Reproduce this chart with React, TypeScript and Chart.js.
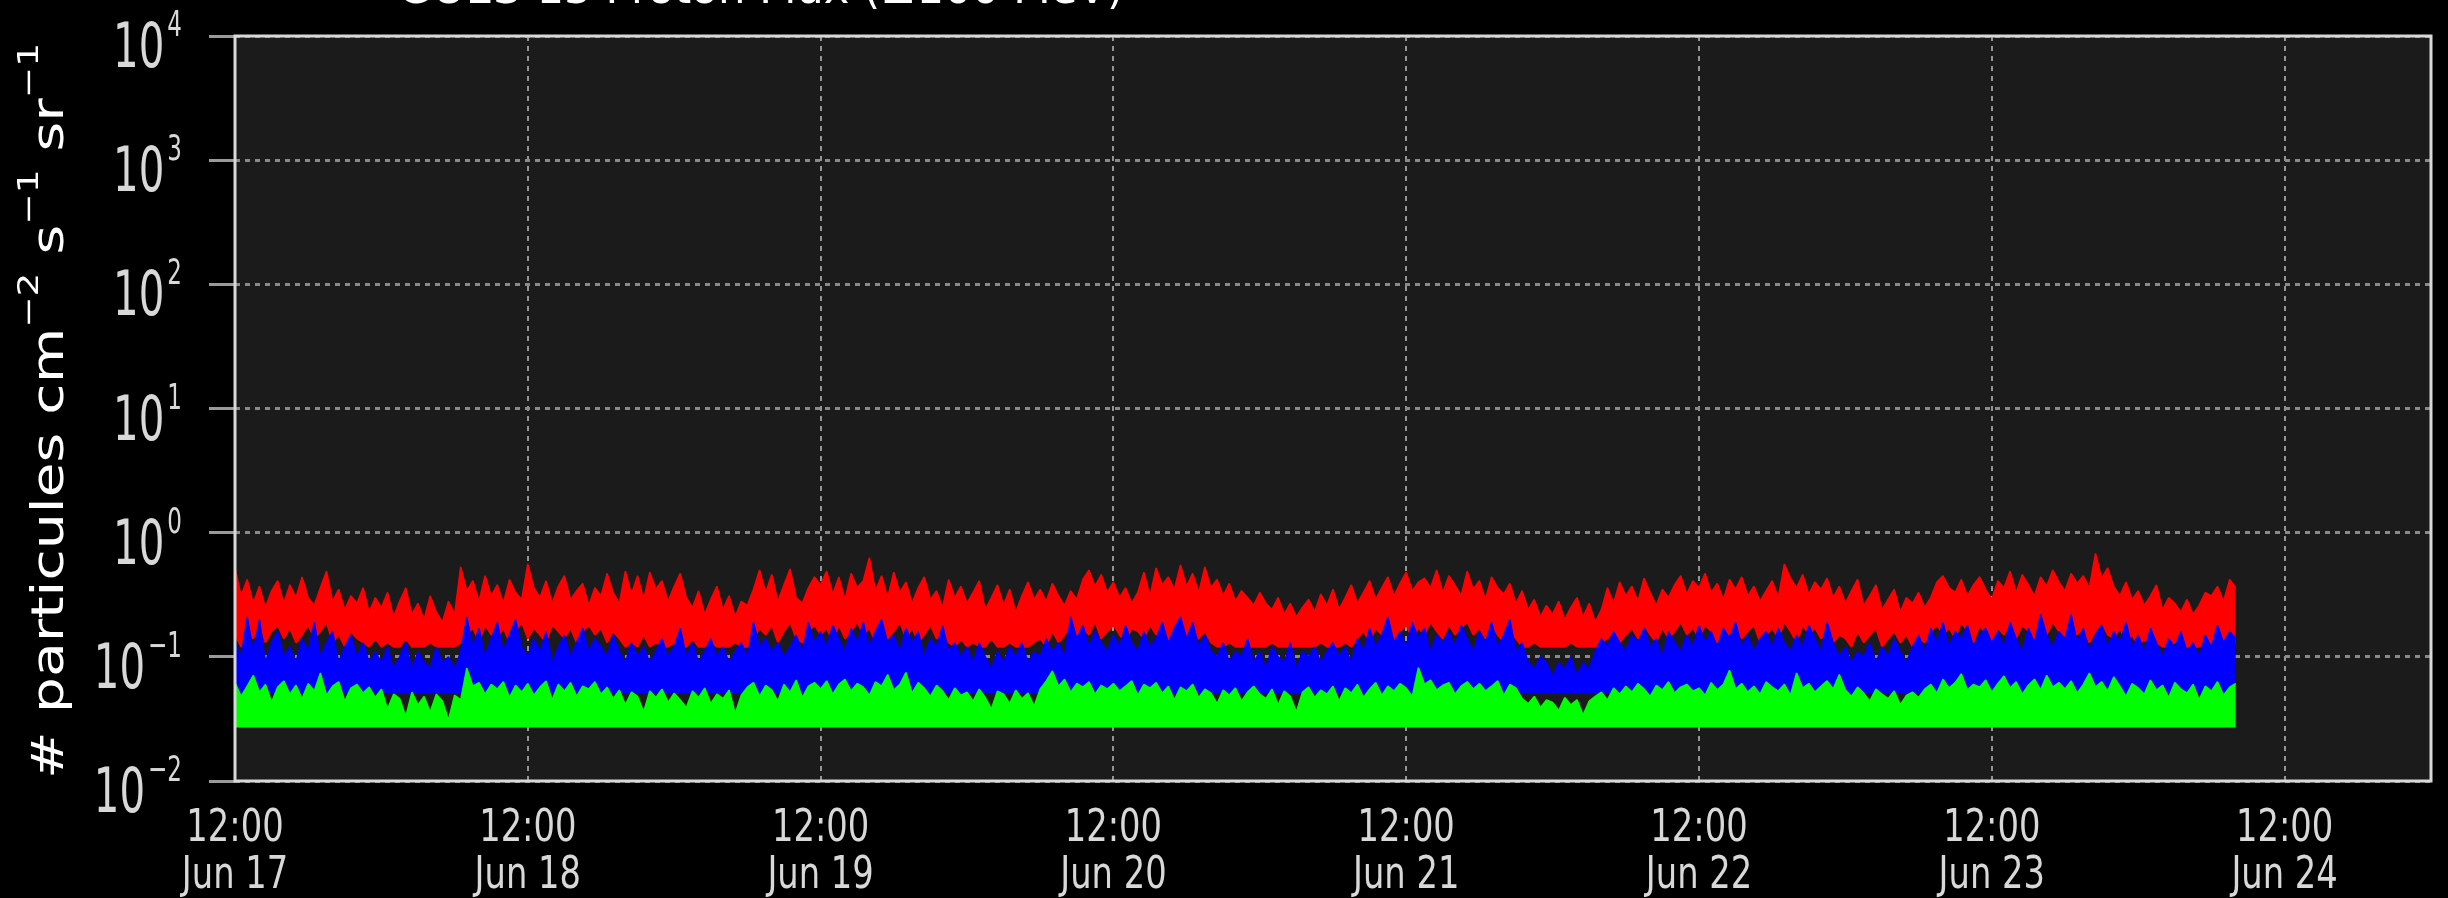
import { useEffect, useRef } from "react";
import { Chart, registerables } from "chart.js";

Chart.register(...registerables);

// ---------- text ----------
const TITLE = "GOES-13 Proton Flux (≥100 MeV)";
const Y_TITLE_PARTS: [string, boolean][] = [
  ["# particules cm", false],
  ["−2", true],
  [" s", false],
  ["−1", true],
  [" sr", false],
  ["−1", true],
];

// ---------- axes ----------
const X_TICK_HOURS = [0, 24, 48, 72, 96, 120, 144, 168]; // hours since Jun 17 12:00
const X_TICK_TIMES = ["12:00", "12:00", "12:00", "12:00", "12:00", "12:00", "12:00", "12:00"];
const X_TICK_DAYS = ["Jun 17", "Jun 18", "Jun 19", "Jun 20", "Jun 21", "Jun 22", "Jun 23", "Jun 24"];
const X_MIN_HOURS = 0;
const X_MAX_HOURS = 180;
const Y_TICKS = [0.01, 0.1, 1, 10, 100, 1000, 10000];
const Y_TICK_EXPONENTS = ["−2", "−1", "0", "1", "2", "3", "4"];
const Y_MIN = 0.01;
const Y_MAX = 10000;

// ---------- data (30-minute samples from Jun 17 12:00) ----------
const SAMPLE_STEP_HOURS = 0.5;

const RED_HIGH = [
  0.52, 0.31, 0.42, 0.27, 0.37, 0.25, 0.34, 0.41, 0.27, 0.38, 0.30, 0.44,
  0.30, 0.26, 0.36, 0.49, 0.28, 0.35, 0.24, 0.31, 0.27, 0.36, 0.23, 0.30,
  0.25, 0.33, 0.21, 0.28, 0.36, 0.22, 0.27, 0.20, 0.31, 0.23, 0.19, 0.28,
  0.22, 0.53, 0.34, 0.41, 0.28, 0.45, 0.31, 0.38, 0.27, 0.42, 0.33, 0.29,
  0.56, 0.36, 0.30, 0.41, 0.27, 0.37, 0.45, 0.29, 0.34, 0.39, 0.26, 0.36,
  0.31, 0.47, 0.33, 0.27, 0.49, 0.32, 0.45, 0.29, 0.48, 0.35, 0.41, 0.28,
  0.37, 0.47, 0.30, 0.25, 0.34, 0.22, 0.29, 0.37, 0.24, 0.31, 0.21, 0.28,
  0.26, 0.35, 0.50, 0.33, 0.46, 0.28, 0.38, 0.51, 0.30, 0.27, 0.36, 0.44,
  0.38, 0.49, 0.32, 0.44, 0.29, 0.47, 0.36, 0.41, 0.63, 0.34, 0.45, 0.30,
  0.48, 0.33, 0.40, 0.27, 0.36, 0.44, 0.29, 0.34, 0.25, 0.42, 0.30, 0.37,
  0.27, 0.33, 0.41, 0.24, 0.30, 0.38, 0.26, 0.35, 0.23, 0.31, 0.40, 0.29,
  0.35, 0.28, 0.39, 0.31, 0.26, 0.34, 0.29, 0.42, 0.50, 0.37, 0.46, 0.33,
  0.40, 0.30, 0.36, 0.27, 0.33, 0.48, 0.31, 0.52, 0.38, 0.44, 0.35, 0.55,
  0.37, 0.47, 0.33, 0.53, 0.36, 0.42, 0.31, 0.39, 0.28, 0.34, 0.30, 0.26,
  0.33, 0.27, 0.24, 0.30, 0.22, 0.27, 0.21, 0.25, 0.29, 0.23, 0.32, 0.26,
  0.35, 0.24, 0.30, 0.38, 0.27, 0.33, 0.41, 0.29, 0.36, 0.44, 0.31, 0.39,
  0.48, 0.34, 0.40, 0.43, 0.36, 0.50, 0.33, 0.45, 0.38, 0.31, 0.49, 0.35,
  0.41, 0.29, 0.44, 0.36, 0.32, 0.39, 0.27, 0.34, 0.24, 0.29, 0.21, 0.26,
  0.22, 0.28, 0.20, 0.25, 0.30, 0.21, 0.27, 0.19, 0.24, 0.36, 0.27, 0.40,
  0.31, 0.37, 0.28, 0.43, 0.33, 0.26, 0.35, 0.30, 0.38, 0.45, 0.32, 0.41,
  0.36, 0.47, 0.33, 0.39, 0.29, 0.42, 0.35, 0.44, 0.31, 0.37, 0.28, 0.34,
  0.41, 0.30, 0.56, 0.43, 0.36, 0.46, 0.32, 0.40, 0.35, 0.43, 0.30, 0.37,
  0.27, 0.34, 0.42, 0.26, 0.31, 0.38, 0.24, 0.29, 0.35, 0.23, 0.30, 0.27,
  0.33, 0.25, 0.30, 0.40, 0.45, 0.36, 0.33, 0.42, 0.31, 0.38, 0.44, 0.35,
  0.29, 0.41, 0.36, 0.49, 0.33, 0.46, 0.38, 0.31, 0.44, 0.37, 0.50, 0.40,
  0.34, 0.47, 0.39, 0.45, 0.36, 0.68, 0.43, 0.52, 0.37, 0.31, 0.40, 0.29,
  0.34, 0.26, 0.31, 0.38, 0.24, 0.30, 0.27, 0.23, 0.29, 0.22, 0.26, 0.33,
  0.31, 0.37, 0.28, 0.42, 0.36,
];

const RED_LOW = [
  0.15, 0.12, 0.17, 0.14, 0.19, 0.13, 0.16, 0.18, 0.14, 0.17, 0.13, 0.15,
  0.18, 0.14, 0.16, 0.19, 0.13, 0.15, 0.12, 0.16, 0.14, 0.13, 0.12, 0.14,
  0.12, 0.13, 0.12, 0.12, 0.14, 0.12, 0.12, 0.12, 0.13, 0.12, 0.12, 0.12,
  0.12, 0.13, 0.15, 0.17, 0.13, 0.18, 0.15, 0.14, 0.17, 0.13, 0.16, 0.19,
  0.14, 0.17, 0.15, 0.13, 0.18, 0.16, 0.14, 0.17, 0.13, 0.16, 0.18, 0.15,
  0.17, 0.13, 0.16, 0.14, 0.12, 0.13, 0.12, 0.15, 0.12, 0.13, 0.12, 0.12,
  0.13, 0.12, 0.12, 0.14, 0.12, 0.12, 0.13, 0.12, 0.12, 0.12, 0.13, 0.12,
  0.12, 0.14, 0.17, 0.15, 0.18, 0.13, 0.16, 0.19, 0.14, 0.13, 0.16, 0.18,
  0.15, 0.17, 0.13, 0.18, 0.14, 0.16, 0.19, 0.15, 0.17, 0.13, 0.18, 0.14,
  0.16, 0.19, 0.14, 0.17, 0.13, 0.15, 0.18, 0.14, 0.16, 0.13, 0.12, 0.14,
  0.12, 0.13, 0.12, 0.12, 0.14, 0.12, 0.12, 0.13, 0.12, 0.12, 0.12, 0.13,
  0.14, 0.12, 0.16, 0.13, 0.15, 0.18, 0.14, 0.17, 0.15, 0.19, 0.14, 0.16,
  0.18, 0.15, 0.13, 0.17, 0.16, 0.14, 0.18, 0.15, 0.17, 0.13, 0.16, 0.19,
  0.15, 0.17, 0.14, 0.16, 0.13, 0.12, 0.12, 0.13, 0.12, 0.12, 0.12, 0.12,
  0.12, 0.12, 0.13, 0.12, 0.12, 0.12, 0.12, 0.12, 0.12, 0.12, 0.13, 0.12,
  0.12, 0.12, 0.13, 0.12, 0.14, 0.16, 0.13, 0.17, 0.15, 0.18, 0.14, 0.16,
  0.18, 0.14, 0.17, 0.15, 0.19, 0.16, 0.14, 0.18, 0.15, 0.17, 0.19, 0.15,
  0.17, 0.14, 0.18, 0.15, 0.13, 0.16, 0.14, 0.12, 0.12, 0.13, 0.12, 0.12,
  0.12, 0.12, 0.12, 0.13, 0.12, 0.12, 0.12, 0.12, 0.13, 0.14, 0.16, 0.13,
  0.15, 0.17, 0.14, 0.18, 0.15, 0.13, 0.17, 0.14, 0.16, 0.19, 0.15, 0.17,
  0.14, 0.18, 0.16, 0.13, 0.17, 0.15, 0.19, 0.14, 0.16, 0.18, 0.13, 0.15,
  0.17, 0.14, 0.19, 0.16, 0.13, 0.18, 0.15, 0.17, 0.14, 0.16, 0.13, 0.15,
  0.14, 0.12, 0.16, 0.13, 0.15, 0.17, 0.12, 0.14, 0.16, 0.13, 0.15, 0.12,
  0.14, 0.13, 0.16, 0.18, 0.15, 0.17, 0.14, 0.19, 0.16, 0.13, 0.18, 0.15,
  0.13, 0.17, 0.15, 0.19, 0.14, 0.18, 0.16, 0.13, 0.17, 0.15, 0.19, 0.16,
  0.14, 0.18, 0.15, 0.17, 0.13, 0.16, 0.19, 0.15, 0.14, 0.17, 0.13, 0.15,
  0.12, 0.14, 0.12, 0.13, 0.12, 0.12, 0.13, 0.12, 0.12, 0.12, 0.12, 0.13,
  0.12, 0.13, 0.12, 0.14, 0.13,
];

const BLUE_HIGH = [
  0.13, 0.10, 0.21, 0.11, 0.20, 0.09, 0.13, 0.16, 0.10, 0.12, 0.09, 0.14,
  0.11, 0.19, 0.10, 0.13, 0.16, 0.09, 0.12, 0.15, 0.10, 0.13, 0.09, 0.11,
  0.09, 0.12, 0.08, 0.10, 0.13, 0.08, 0.11, 0.09, 0.08, 0.12, 0.09, 0.10,
  0.08, 0.11, 0.21, 0.12, 0.17, 0.10, 0.14, 0.19, 0.11, 0.15, 0.20, 0.12,
  0.10, 0.14, 0.11, 0.16, 0.09, 0.12, 0.15, 0.10, 0.13, 0.17, 0.11, 0.14,
  0.12, 0.10, 0.15, 0.11, 0.09, 0.13, 0.10, 0.12, 0.09, 0.11, 0.14, 0.10,
  0.12, 0.17, 0.10, 0.13, 0.09, 0.11, 0.14, 0.10, 0.12, 0.09, 0.11, 0.13,
  0.10, 0.19, 0.12, 0.14, 0.11, 0.13, 0.10, 0.12, 0.15, 0.11, 0.19, 0.13,
  0.16, 0.12, 0.18, 0.14, 0.11, 0.17, 0.13, 0.19, 0.12, 0.16, 0.20, 0.13,
  0.15, 0.11, 0.17, 0.13, 0.16, 0.10, 0.14, 0.12, 0.18, 0.11, 0.13, 0.10,
  0.12, 0.09, 0.13, 0.10, 0.08, 0.11, 0.09, 0.12, 0.10, 0.13, 0.09, 0.11,
  0.10, 0.14, 0.11, 0.13, 0.10, 0.21, 0.14, 0.18, 0.12, 0.16, 0.13, 0.11,
  0.15, 0.12, 0.18, 0.13, 0.11, 0.16, 0.12, 0.14, 0.19, 0.13, 0.17, 0.21,
  0.14, 0.19, 0.12, 0.15, 0.11, 0.10, 0.13, 0.09, 0.11, 0.10, 0.14, 0.09,
  0.11, 0.08, 0.12, 0.10, 0.09, 0.13, 0.08, 0.11, 0.10, 0.12, 0.09, 0.11,
  0.13, 0.10, 0.12, 0.09, 0.14, 0.11, 0.17, 0.12, 0.15, 0.21, 0.13, 0.16,
  0.12, 0.19, 0.14, 0.17, 0.11, 0.15, 0.13, 0.16, 0.12, 0.18, 0.14, 0.11,
  0.16, 0.13, 0.19, 0.12, 0.15, 0.20, 0.11, 0.13, 0.09, 0.08, 0.10, 0.09,
  0.07, 0.09, 0.08, 0.10, 0.07, 0.09, 0.08, 0.11, 0.14, 0.12, 0.16, 0.13,
  0.11, 0.15, 0.13, 0.17, 0.12, 0.14, 0.10, 0.16, 0.13, 0.11, 0.15, 0.12,
  0.18, 0.13, 0.16, 0.12, 0.17, 0.14, 0.19, 0.12, 0.15, 0.11, 0.14, 0.16,
  0.12, 0.17, 0.13, 0.11, 0.15, 0.12, 0.18, 0.14, 0.11, 0.19, 0.13, 0.10,
  0.12, 0.09, 0.11, 0.10, 0.13, 0.09, 0.12, 0.10, 0.14, 0.11, 0.09, 0.12,
  0.15, 0.11, 0.17, 0.13, 0.19, 0.12, 0.16, 0.14, 0.18, 0.12, 0.15, 0.17,
  0.13, 0.16, 0.12, 0.19, 0.14, 0.11, 0.17, 0.13, 0.22, 0.15, 0.12, 0.16,
  0.14, 0.22, 0.13, 0.17, 0.11, 0.15, 0.18, 0.12, 0.16, 0.13, 0.19, 0.12,
  0.15, 0.11, 0.17, 0.13, 0.10, 0.14, 0.12, 0.16, 0.11, 0.13, 0.10, 0.15,
  0.12, 0.18, 0.13, 0.16, 0.14,
];
const BLUE_FLOOR = 0.051;

const GREEN_HIGH = [
  0.062, 0.048, 0.058, 0.071, 0.052, 0.060, 0.043, 0.057, 0.064, 0.050, 0.059, 0.046,
  0.061, 0.053, 0.074, 0.049, 0.058, 0.063, 0.044, 0.056, 0.060, 0.051, 0.057, 0.047,
  0.055, 0.038, 0.050, 0.046, 0.033, 0.052, 0.041, 0.048, 0.036, 0.050, 0.044, 0.031,
  0.049, 0.045, 0.081, 0.058, 0.062, 0.050, 0.060, 0.055, 0.063, 0.047, 0.059, 0.052,
  0.061, 0.049, 0.057, 0.064, 0.045, 0.060, 0.053, 0.062, 0.048, 0.058, 0.055, 0.063,
  0.050, 0.057, 0.046, 0.054, 0.041, 0.052, 0.048, 0.036, 0.053, 0.047, 0.055, 0.043,
  0.051, 0.045, 0.039, 0.053, 0.047, 0.056, 0.042, 0.050, 0.046, 0.054, 0.035, 0.049,
  0.057, 0.062, 0.048, 0.059, 0.054, 0.044, 0.060, 0.052, 0.065, 0.047, 0.058, 0.062,
  0.055, 0.064, 0.050, 0.060, 0.066, 0.053, 0.061, 0.057, 0.049, 0.063, 0.058, 0.072,
  0.054, 0.060, 0.075, 0.051, 0.062, 0.056, 0.048, 0.059, 0.053, 0.045, 0.056, 0.049,
  0.052, 0.044, 0.055, 0.047, 0.038, 0.053, 0.050, 0.042, 0.054, 0.046, 0.051, 0.040,
  0.055, 0.064, 0.077, 0.058, 0.066, 0.052, 0.061, 0.057, 0.063, 0.050, 0.059, 0.055,
  0.061, 0.053, 0.058, 0.064, 0.049, 0.060, 0.056, 0.062, 0.051, 0.058, 0.045, 0.057,
  0.053, 0.060, 0.047, 0.055, 0.051, 0.042, 0.054, 0.049, 0.056, 0.044, 0.052, 0.058,
  0.050, 0.046, 0.055, 0.041, 0.053, 0.048, 0.036, 0.052, 0.057, 0.047, 0.054, 0.050,
  0.058, 0.044, 0.056, 0.051, 0.060, 0.047, 0.055, 0.062, 0.049, 0.058, 0.053, 0.061,
  0.056, 0.048, 0.082, 0.060, 0.065, 0.054, 0.059, 0.062, 0.050, 0.058, 0.063, 0.055,
  0.061, 0.053, 0.058, 0.064, 0.049, 0.060, 0.056, 0.046, 0.042, 0.048, 0.039, 0.045,
  0.043, 0.037, 0.047, 0.041, 0.045, 0.034, 0.044, 0.048, 0.052, 0.045, 0.056, 0.050,
  0.058, 0.052, 0.061, 0.055, 0.048, 0.059, 0.054, 0.063, 0.051, 0.057, 0.060, 0.053,
  0.056, 0.049, 0.062, 0.054, 0.060, 0.078, 0.055, 0.061, 0.052, 0.058, 0.050, 0.063,
  0.057, 0.053, 0.060, 0.049, 0.074, 0.056, 0.061, 0.052, 0.058, 0.064, 0.055, 0.072,
  0.054, 0.048, 0.057, 0.051, 0.044, 0.055, 0.050, 0.046, 0.053, 0.041, 0.049, 0.052,
  0.047, 0.055, 0.060, 0.051, 0.066, 0.056, 0.062, 0.073, 0.054, 0.060, 0.057, 0.065,
  0.052, 0.061, 0.070, 0.056, 0.063, 0.050, 0.059, 0.066, 0.054, 0.071, 0.057, 0.062,
  0.055, 0.064, 0.051, 0.060, 0.074, 0.057, 0.063, 0.053, 0.069, 0.058, 0.048, 0.061,
  0.056, 0.050, 0.065, 0.054, 0.059, 0.047, 0.062, 0.055, 0.051, 0.060, 0.045, 0.058,
  0.053, 0.063, 0.049, 0.057, 0.061,
];
const GREEN_FLOOR = 0.027;

// ---------- helpers ----------
const toPoints = (values: number[]) =>
  values.map((v, i) => ({ x: i * SAMPLE_STEP_HOURS, y: v }));

const FONT = '"DejaVu Sans", sans-serif';

function drawScaledText(
  ctx: CanvasRenderingContext2D,
  text: string,
  font: string,
  x: number,
  baseline: number,
  sx: number,
  align: "left" | "right" | "center"
): number {
  ctx.font = font;
  const w = ctx.measureText(text).width * sx;
  let left = x;
  if (align === "right") left = x - w;
  else if (align === "center") left = x - w / 2;
  ctx.save();
  ctx.translate(left, baseline);
  ctx.scale(sx, 1);
  ctx.textAlign = "left";
  ctx.textBaseline = "alphabetic";
  ctx.fillText(text, 0, 0);
  ctx.restore();
  return w;
}

const decorPlugin = {
  id: "decor",
  beforeDraw(chart: any) {
    const { ctx, chartArea: a, width, height } = chart;
    ctx.save();
    ctx.fillStyle = "#000000";
    ctx.fillRect(0, 0, width, height);
    ctx.fillStyle = "#1b1b1b";
    ctx.fillRect(a.left, a.top, a.right - a.left, a.bottom - a.top);
    ctx.restore();
  },
  afterDraw(chart: any) {
    const { ctx, chartArea: a } = chart;
    const xs = chart.scales.x;
    const ys = chart.scales.y;
    ctx.save();

    // plot frame
    ctx.strokeStyle = "#d8d8d8";
    ctx.lineWidth = 3;
    ctx.strokeRect(a.left, a.top, a.right - a.left, a.bottom - a.top);

    // y tick labels: 10^n
    ctx.fillStyle = "#d8d8d8";
    const ySx = 0.64;
    const labelRight = a.left - 53;
    Y_TICKS.forEach((v, i) => {
      const y = ys.getPixelForValue(v);
      const supW = drawScaledText(ctx, Y_TICK_EXPONENTS[i], `36px ${FONT}`, labelRight, y, ySx, "right");
      drawScaledText(ctx, "10", `63px ${FONT}`, labelRight - supW - 3, y + 31, ySx, "right");
    });

    // x tick labels
    const xSx = 0.75;
    X_TICK_HOURS.forEach((h, i) => {
      const x = xs.getPixelForValue(h);
      drawScaledText(ctx, X_TICK_TIMES[i], `45px ${FONT}`, x, a.bottom + 60, xSx, "center");
      drawScaledText(ctx, X_TICK_DAYS[i], `45px ${FONT}`, x, a.bottom + 107, xSx, "center");
    });

    // title (cut off at the top of the picture)
    ctx.fillStyle = "#ffffff";
    ctx.font = `44px ${FONT}`;
    const tw = ctx.measureText(TITLE).width;
    drawScaledText(ctx, TITLE, `44px ${FONT}`, 398, 3, 726 / tw, "left");

    // y axis title (rotated)
    const mainFont = `44px ${FONT}`;
    const supFont = `29px ${FONT}`;
    let total = 0;
    Y_TITLE_PARTS.forEach(([t, sup]) => {
      ctx.font = sup ? supFont : mainFont;
      total += ctx.measureText(t).width;
    });
    const stretch = 736 / total;
    ctx.save();
    ctx.translate(63, a.bottom - 2);
    ctx.rotate(-Math.PI / 2);
    ctx.scale(stretch, 1);
    ctx.textAlign = "left";
    ctx.textBaseline = "alphabetic";
    let pos = 0;
    Y_TITLE_PARTS.forEach(([t, sup]) => {
      ctx.font = sup ? supFont : mainFont;
      ctx.fillText(t, pos, sup ? -25 : 0);
      pos += ctx.measureText(t).width;
    });
    ctx.restore();

    ctx.restore();
  },
};

export default function App() {
  const canvasRef = useRef<HTMLCanvasElement | null>(null);

  useEffect(() => {
    document.body.style.margin = "0";
    document.body.style.background = "#000";
    const canvas = canvasRef.current;
    if (!canvas) return;

    const lineCommon = {
      borderWidth: 1.5,
      pointRadius: 0,
      tension: 0,
      borderJoinStyle: "bevel" as const,
    };

    const chart = new Chart(canvas, {
      type: "line",
      data: {
        datasets: [
          {
            label: "≥100 MeV",
            data: toPoints(GREEN_HIGH),
            borderColor: "#00ff00",
            backgroundColor: "#00ff00",
            fill: { value: GREEN_FLOOR },
            ...lineCommon,
          },
          {
            label: "≥50 MeV",
            data: toPoints(BLUE_HIGH),
            borderColor: "#0000ff",
            backgroundColor: "#0000ff",
            fill: { value: BLUE_FLOOR },
            ...lineCommon,
          },
          {
            label: "≥10 MeV",
            data: toPoints(RED_HIGH),
            borderColor: "#ff0000",
            backgroundColor: "#ff0000",
            fill: "+1",
            ...lineCommon,
          },
          {
            label: "≥10 MeV (low)",
            data: toPoints(RED_LOW),
            borderColor: "#ff0000",
            backgroundColor: "#ff0000",
            fill: false,
            ...lineCommon,
          },
        ],
      },
      options: {
        responsive: false,
        animation: false,
        devicePixelRatio: 1,
        parsing: false,
        layout: { padding: { top: 36, right: 17, left: 0, bottom: 0 } },
        plugins: {
          legend: { display: false },
          tooltip: { enabled: false },
          title: { display: false },
        },
        scales: {
          x: {
            type: "linear",
            min: X_MIN_HOURS,
            max: X_MAX_HOURS,
            afterBuildTicks: (s: any) => {
              s.ticks = X_TICK_HOURS.map((v) => ({ value: v }));
            },
            afterFit: (s: any) => {
              s.height = 117;
            },
            ticks: { display: false },
            grid: {
              color: "rgba(170,170,170,0.85)",
              lineWidth: 2,
              drawTicks: false,
            },
            border: { display: false, dash: [5, 5] },
          },
          y: {
            type: "logarithmic",
            min: Y_MIN,
            max: Y_MAX,
            afterBuildTicks: (s: any) => {
              s.ticks = Y_TICKS.map((v) => ({ value: v }));
            },
            afterFit: (s: any) => {
              s.width = 235;
            },
            ticks: { display: false },
            grid: {
              color: "#8a8a8a",
              lineWidth: 3,
              drawTicks: true,
              tickLength: 26,
              tickColor: "#9a9a9a",
              tickWidth: 3,
            },
            border: { display: false, dash: [5, 5] },
          },
        },
      } as any,
      plugins: [decorPlugin],
    });

    return () => chart.destroy();
  }, []);

  return (
    <div style={{ width: 2448, height: 898, background: "#000" }}>
      <canvas
        ref={canvasRef}
        width={2448}
        height={898}
        style={{ display: "block", width: 2448, height: 898 }}
      />
    </div>
  );
}
